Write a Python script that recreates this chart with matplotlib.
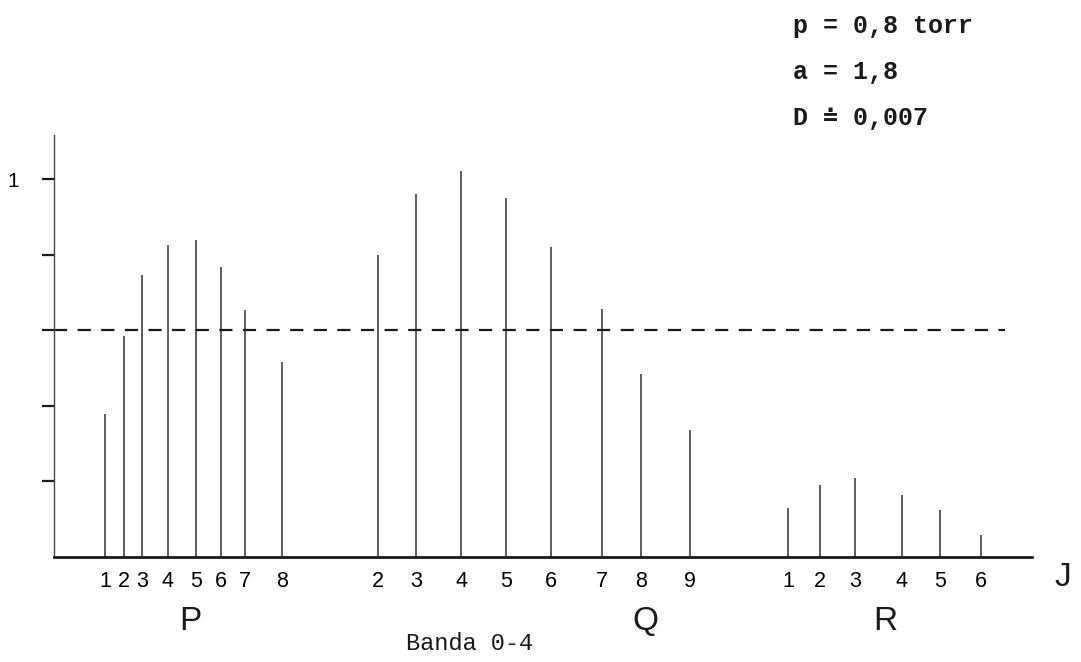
import matplotlib
matplotlib.use("Agg")
import matplotlib.pyplot as plt

plt.rcParams['lines.scale_dashes'] = False

# ---- data ----
branches = ["P", "Q", "R"]
P_J = ["1", "2", "3", "4", "5", "6", "7", "8"]
P_pos = [51, 70, 88, 114, 142, 167, 191, 228]
P_val = [0.378, 0.585, 0.746, 0.825, 0.839, 0.767, 0.653, 0.516]

Q_J = ["2", "3", "4", "5", "6", "7", "8", "9"]
Q_pos = [324, 362, 407, 452, 497, 548, 587, 636]
Q_val = [0.80, 0.96, 1.02, 0.95, 0.82, 0.656, 0.484, 0.335]

R_J = ["1", "2", "3", "4", "5", "6"]
R_pos = [734, 766, 801, 848, 886, 927]
R_val = [0.13, 0.19, 0.21, 0.164, 0.124, 0.058]

threshold = 0.6
y_ticks = [0.2, 0.4, 0.6, 0.8, 1.0]
y_ticklabels = ["", "", "", "", "1"]
params = ["p = 0,8 torr", "a = 1,8", "D \u2250 0,007"]
caption = "Banda 0-4"

W, H = 1081, 662
fig = plt.figure(figsize=(W / 100, H / 100), dpi=100)
ax = fig.add_axes([54 / W, (H - 557) / H, (1032 - 54) / W, (557 - 135) / H])
ax.set_xlim(0, 978)
ax.set_ylim(0, 422 / 378)

ink = "#1a1a1a"
for pos, val in ((P_pos, P_val), (Q_pos, Q_val), (R_pos, R_val)):
    ax.vlines(pos, 0, val, colors="#333333", linewidth=1.1)

ax.hlines(threshold, 0, 951, colors=ink, linewidth=1.6, linestyles=(0, (9.5, 7.5)))

for s in ("top", "right"):
    ax.spines[s].set_visible(False)
ax.spines["left"].set_linewidth(1.0)
ax.spines["left"].set_color("#444444")
ax.spines["bottom"].set_linewidth(2.0)
ax.spines["bottom"].set_color(ink)

ax.set_yticks(y_ticks)
ax.set_yticklabels(y_ticklabels, fontsize=15, family="Liberation Sans")
ax.tick_params(axis="y", direction="out", length=9, width=1.6, color=ink, pad=16)

ax.set_xticks(P_pos + Q_pos + R_pos)
ax.set_xticklabels(P_J + Q_J + R_J, fontsize=15.5, family="Liberation Sans")
ax.tick_params(axis="x", length=0, pad=10)


def ptext(x, y, s, **kw):
    fig.text(x / W, 1 - y / H, s, **kw)


mono = ["Liberation Mono", "DejaVu Sans Mono"]
branch_x = [190, 645, 885]
for b, bx in zip(branches, branch_x):
    ptext(bx, 622, b, fontsize=24, family="Liberation Sans", ha="center", va="center", color=ink)
ptext(1063, 578, "J", fontsize=24, family="Liberation Sans", ha="center", va="center", color=ink)
ptext(470, 643, caption, fontsize=17, family=mono, ha="center", va="center", color=ink)

for i, s in enumerate(params):
    ptext(793, 26 + i * 46, s, fontsize=18, family=mono, fontweight="bold",
          ha="left", va="center", color=ink)

fig.savefig("out.png", dpi=100, facecolor="white")
